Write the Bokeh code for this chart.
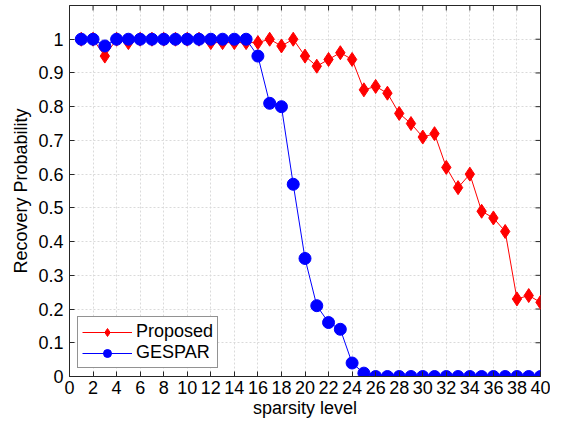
import math
from bokeh.plotting import figure
from bokeh.models import (LinearAxis, FixedTicker, CustomJSTickFormatter, Range1d, Legend)
from bokeh.embed import file_html
from bokeh.resources import INLINE

# ---- data ----
sparsity = list(range(1, 41))
proposed = [1.00, 1.00, 0.95, 1.00, 0.99, 1.00, 1.00, 1.00, 1.00, 1.00,
            1.00, 0.99, 0.99, 0.99, 0.99, 0.99, 1.00, 0.98, 1.00, 0.95,
            0.92, 0.94, 0.96, 0.94, 0.85, 0.86, 0.84, 0.78, 0.75, 0.71,
            0.72, 0.62, 0.56, 0.60, 0.49, 0.47, 0.43, 0.23, 0.24, 0.22]
gespar = [1.00, 1.00, 0.98, 1.00, 1.00, 1.00, 1.00, 1.00, 1.00, 1.00,
          1.00, 1.00, 1.00, 1.00, 1.00, 0.95, 0.81, 0.80, 0.57, 0.35,
          0.21, 0.16, 0.14, 0.04, 0.01, 0.00, 0.00, 0.00, 0.00, 0.00,
          0.00, 0.00, 0.00, 0.00, 0.00, 0.00, 0.00, 0.00, 0.00, 0.00]
x_ticks = list(range(0, 41, 2))
y_ticks = [0.0, 0.1, 0.2, 0.3, 0.4, 0.5, 0.6, 0.7, 0.8, 0.9, 1.0]
x_lim = (0, 40)
y_lim = (0, 1.1)
series_names = ["Proposed", "GESPAR"]
x_label = "sparsity level"
y_label = "Recovery Probability"

FONT = "Liberation Sans"
FS = "18px"
AX = "#262626"

p = figure(width=550, height=423, output_backend="svg", toolbar_location=None,
           x_range=Range1d(*x_lim), y_range=Range1d(*y_lim),
           min_border_left=69, min_border_right=10, min_border_top=5,
           min_border_bottom=47, x_axis_location=None, y_axis_location=None)
p.background_fill_color = "white"
p.border_fill_color = "white"
p.outline_line_color = AX
p.outline_line_width = 1

fmt = CustomJSTickFormatter(code="return (Math.round(tick*10)/10).toString();")

def style_axis(ax):
    ax.axis_line_color = AX
    ax.major_tick_line_color = AX
    ax.major_tick_in = 5
    ax.major_tick_out = 0
    ax.minor_tick_line_color = None
    ax.major_label_text_font = FONT
    ax.major_label_text_font_size = FS
    ax.major_label_text_color = "black"
    ax.axis_label_text_font = FONT
    ax.axis_label_text_font_size = FS
    ax.axis_label_text_font_style = "normal"
    ax.axis_label_text_color = "black"

xb = LinearAxis(ticker=FixedTicker(ticks=x_ticks), axis_label=x_label)
style_axis(xb)
xb.major_label_standoff = 4
xb.axis_label_standoff = 1
p.add_layout(xb, "below")

yl = LinearAxis(ticker=FixedTicker(ticks=y_ticks), axis_label=y_label, formatter=fmt)
style_axis(yl)
yl.major_label_standoff = 6
yl.axis_label_standoff = 4
p.add_layout(yl, "left")

# inward ticks on the top and right edges of the box
p.ray(x=x_ticks, y=[y_lim[1]] * len(x_ticks), length=5, length_units="screen",
      angle=-math.pi / 2, line_color=AX, line_width=1)
p.ray(x=[x_lim[1]] * len(y_ticks), y=y_ticks, length=5, length_units="screen",
      angle=math.pi, line_color=AX, line_width=1)

p.xgrid.ticker = FixedTicker(ticks=x_ticks)
p.ygrid.ticker = FixedTicker(ticks=y_ticks)
for g in (p.xgrid, p.ygrid):
    g.grid_line_color = "#dadada"
    g.grid_line_dash = "2 2"
    g.grid_line_width = 1

r1 = p.line(sparsity, proposed, line_color="#ff0000", line_width=1)
m1 = p.scatter(sparsity, proposed, marker="diamond", size=14,
               fill_color="#ff0000", line_color="#ff0000")
r2 = p.line(sparsity, gespar, line_color="#0000ff", line_width=1)
m2 = p.scatter(sparsity, gespar, marker="circle", size=12,
               fill_color="#0000ff", line_color="#0000ff")

legend = Legend(items=[(series_names[0], [r1, m1]), (series_names[1], [r2, m2])],
                location="bottom_left")
legend.margin = 8
legend.padding = 4
legend.spacing = 0
legend.glyph_width = 50
legend.glyph_height = 20
legend.label_standoff = 4
legend.label_text_font = FONT
legend.label_text_font_size = FS
legend.label_text_color = "black"
legend.border_line_color = AX
legend.border_line_width = 1
legend.background_fill_color = "white"
legend.background_fill_alpha = 1
p.add_layout(legend, "center")

open("out.html", "w").write(file_html(p, INLINE))
